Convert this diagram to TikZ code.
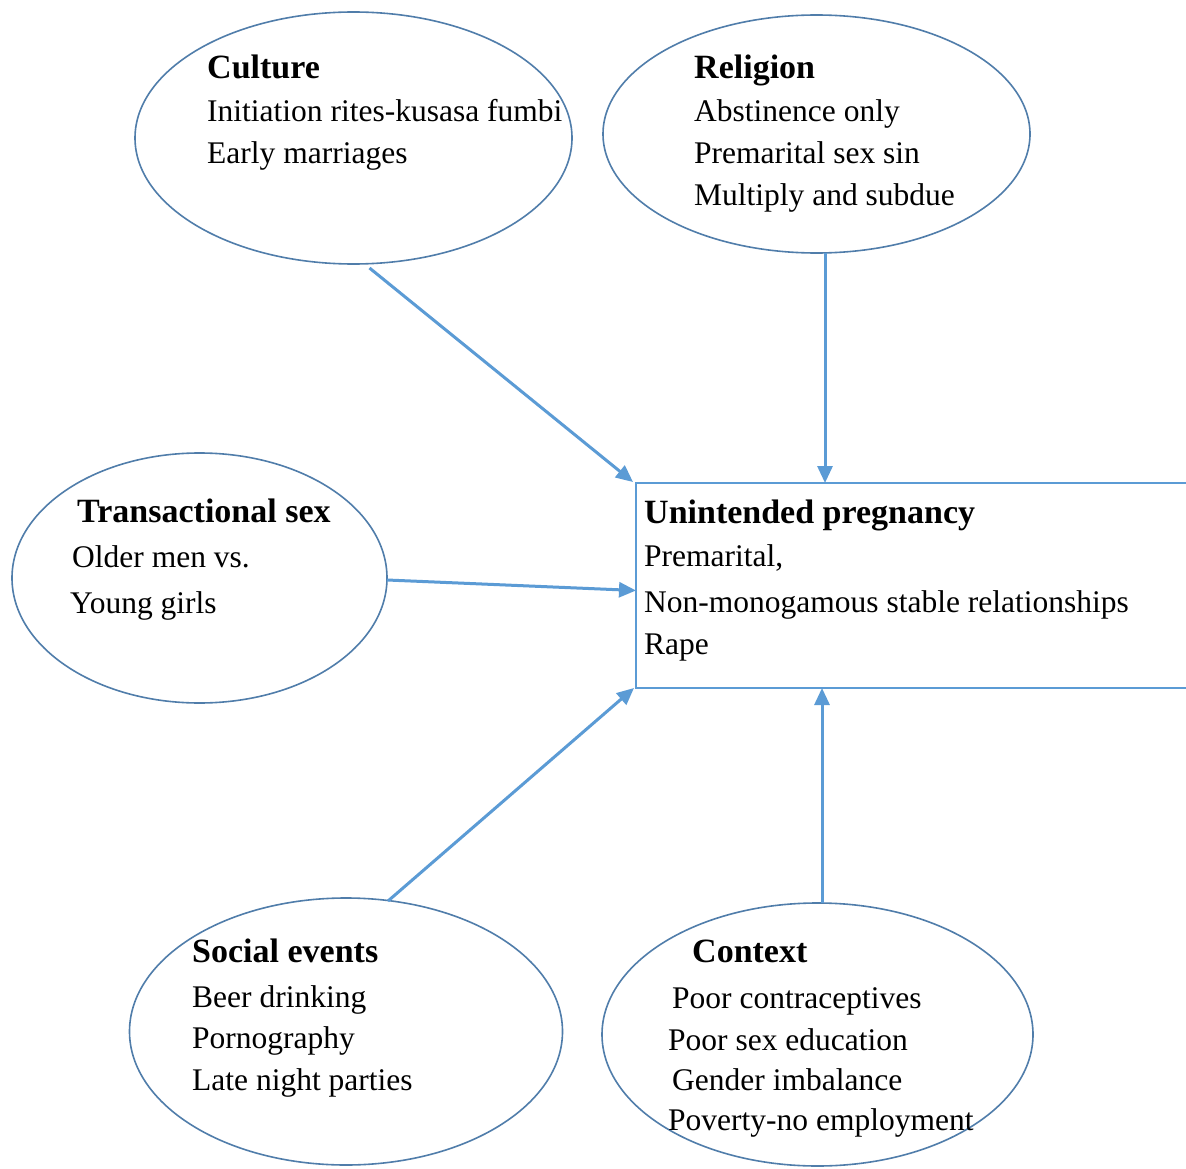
\documentclass[tikz,border=0pt]{standalone}
\usepackage{fontspec}
\setmainfont{Liberation Serif}
\usetikzlibrary{shapes.geometric,arrows.meta}
\definecolor{ellcol}{RGB}{80,125,170}
\definecolor{arrcol}{RGB}{91,155,213}
\begin{document}
\begin{tikzpicture}[x=1pt,y=-1pt,
  ellbox/.style={ellipse,draw=ellcol,line width=1.6pt,inner sep=0pt,outer sep=0pt},
  rectbox/.style={rectangle,draw=arrcol,line width=2pt,inner sep=0pt,outer sep=0pt,anchor=north west},
  ttl/.style={anchor=base west,inner sep=0pt,font=\fontsize{34}{40}\selectfont\bfseries},
  txt/.style={anchor=base west,inner sep=0pt,font=\fontsize{31.5}{40}\selectfont},
  conn/.style={draw=arrcol,line width=3pt,-{Triangle[length=17pt,width=15pt]}}]
\useasboundingbox (0,0) rectangle (1186,1169);
\fill[white] (0,0) rectangle (1186,1169);

% ellipses
\node[ellbox,minimum width=437pt,minimum height=252pt] (cult) at (353.5,138) {};
\node[ellbox,minimum width=427pt,minimum height=238pt] (rel) at (816.5,134) {};
\node[ellbox,minimum width=375pt,minimum height=250pt] (trans) at (199.5,578) {};
\node[ellbox,minimum width=433pt,minimum height=267pt] (soc) at (346,1031.5) {};
\node[ellbox,minimum width=431pt,minimum height=263pt] (ctx) at (817.5,1034.5) {};

% central rectangle
\node[rectbox,minimum width=570pt,minimum height=205pt] (up) at (636,483) {};

% texts
\node[ttl] (t1) at (207,79) {Culture};
\node[txt] (t1a) at (207,122) {Initiation rites-kusasa fumbi};
\node[txt] (t1b) at (207,164) {Early marriages};

\node[ttl] (t2) at (694,79) {Religion};
\node[txt] (t2a) at (694,122) {Abstinence only};
\node[txt] (t2b) at (694,164) {Premarital sex sin};
\node[txt] (t2c) at (694,206) {Multiply and subdue};

\node[ttl] (t3) at (77,522) {Transactional sex};
\node[txt] (t3a) at (72,567) {Older men vs.};
\node[txt] (t3b) at (70,613) {Young girls};

\node[ttl] (t4) at (644,523) {Unintended pregnancy};
\node[txt] (t4a) at (644,566) {Premarital,};
\node[txt] (t4b) at (644,612) {Non-monogamous stable relationships};
\node[txt] (t4c) at (644,654) {Rape};

\node[ttl] (t5) at (192,962) {Social events};
\node[txt] (t5a) at (192,1007) {Beer drinking};
\node[txt] (t5b) at (192,1048) {Pornography};
\node[txt] (t5c) at (192,1090) {Late night parties};

\node[ttl] (t6) at (692,962) {Context};
\node[txt] (t6a) at (672,1008) {Poor contraceptives};
\node[txt] (t6b) at (668,1050) {Poor sex education};
\node[txt] (t6c) at (672,1090) {Gender imbalance};
\node[txt] (t6d) at (668,1130) {Poverty-no employment};

% connectors
\draw[conn] ([xshift=16pt,yshift=-4pt]cult.south) -- ([xshift=-3pt,yshift=1pt]up.north west);
\draw[conn] ([xshift=8.5pt]rel.south) -- ([xshift=8.5pt]rel.south |- up.north);
\draw[conn] ([yshift=-2pt]trans.east) -- ([yshift=-5pt]up.west);
\draw[conn] ([xshift=42pt,yshift=-3pt]soc.north) -- ([xshift=-2pt]up.south west);
\draw[conn] ([xshift=4.5pt]ctx.north) -- ([xshift=4.5pt]ctx.north |- up.south);
\end{tikzpicture}
\end{document}
